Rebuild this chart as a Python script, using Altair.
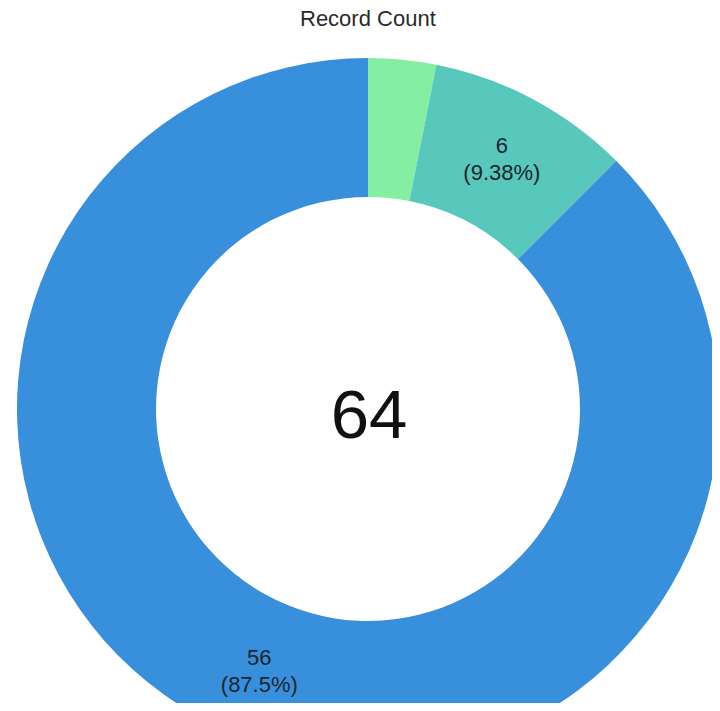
import altair as alt
import pandas as pd

categories = ["Group A", "Group B", "Group C"]
counts = [2, 6, 56]
colors = ["#84efa2", "#58c7bc", "#388fdb"]

total = sum(counts)
labels = []
for c in counts:
    pct = c / total * 100
    labels.append(f"{c}\n({pct:.3g}%)" if pct >= 5 else "")

df = pd.DataFrame({
    "category": categories,
    "count": counts,
    "label": labels,
    "order": list(range(len(categories))),
})

CX, CY = 360, 361
R_OUT, R_IN = 351, 212

base = alt.Chart(df).encode(
    theta=alt.Theta("count:Q", stack=True),
    order=alt.Order("order:Q"),
)

arcs = base.mark_arc(outerRadius=R_OUT, innerRadius=R_IN).encode(
    color=alt.Color("category:N",
                    scale=alt.Scale(domain=categories, range=colors),
                    legend=None),
    x=alt.value(CX),
    y=alt.value(CY),
)

slice_text = base.mark_text(
    radius=284,
    fontSize=22,
    font="Liberation Sans",
    color="#1c2530",
    lineBreak="\n",
    lineHeight=27,
    align="center",
    baseline="middle",
    dy=-13,
).encode(
    text="label:N",
    x=alt.value(CX),
    y=alt.value(CY),
)

center_text = alt.Chart(df).transform_aggregate(
    total="sum(count)"
).mark_text(
    fontSize=69,
    font="Liberation Sans",
    color="#111111",
    align="center",
    baseline="alphabetic",
).encode(
    text="total:Q",
    x=alt.value(CX + 1),
    y=alt.value(CY + 29),
)

chart = alt.layer(arcs, slice_text, center_text).properties(
    width=704,
    height=655,
    autosize=alt.AutoSizeParams(type="none"),
    padding={"left": 0, "top": 40, "right": 0, "bottom": 0},
    title=alt.TitleParams(
        "Record Count",
        anchor="start",
        fontSize=22,
        fontWeight="normal",
        font="Liberation Sans",
        color="#2a2a2a",
        baseline="alphabetic",
        offset=0,
        dx=292,
    ),
).configure_view(stroke=None)

chart.save("out.html", embed_options={"renderer": "svg", "actions": False})
